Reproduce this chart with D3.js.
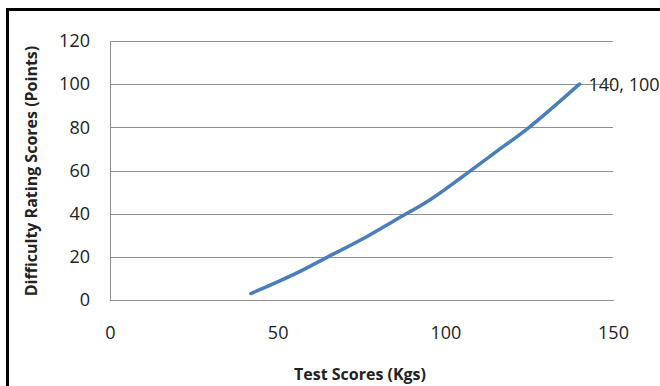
<!DOCTYPE html>
<html>
<head>
<meta charset="utf-8">
<script src="https://cdn.jsdelivr.net/npm/d3@7"></script>
<style>
  body { margin: 0; background: #fff; }
  text { font-family: "Open Sans", sans-serif; fill: #222; }
</style>
</head>
<body>
<svg id="chart" width="660" height="386"></svg>
<script>
// valores
const testScores = [42, 55, 65, 75, 85, 95, 105, 115, 125, 140];
const difficulty = [3, 12, 20, 28, 37, 46, 57, 68.5, 80, 100];
const xTicks = [0, 50, 100, 150];
const yTicks = [0, 20, 40, 60, 80, 100, 120];
const pointLabel = "140, 100";

const width = 660, height = 386;
const margin = {top: 41, right: 47, bottom: 86, left: 110};
const svg = d3.select("#chart");

// moldura externa
svg.append("rect")
    .attr("x", 7.5).attr("y", 9.5)
    .attr("width", 700).attr("height", 400)
    .attr("fill", "none")
    .attr("stroke", "#000")
    .attr("stroke-width", 3);

const x = d3.scaleLinear().domain([0, 150]).range([margin.left, width - margin.right]);
const y = d3.scaleLinear().domain([0, 120]).range([height - margin.bottom, margin.top]);

// linhas de grade
svg.append("g")
    .attr("class", "grid")
    .attr("transform", `translate(${margin.left},0)`)
    .call(d3.axisLeft(y).tickValues(yTicks).tickSize(-(width - margin.right - margin.left)).tickFormat(""))
    .call(g => g.select(".domain").remove())
    .call(g => g.selectAll("line").attr("stroke", "#8f8f8f").attr("shape-rendering", "crispEdges"));

// eixo Y
svg.append("g")
    .attr("class", "y-axis")
    .attr("transform", `translate(${margin.left},0)`)
    .call(d3.axisLeft(y).tickValues(yTicks).tickSize(0).tickPadding(20))
    .call(g => g.select(".domain").attr("stroke", "#8f8f8f").attr("shape-rendering", "crispEdges"))
    .call(g => g.selectAll("text").style("font-size", "18px").attr("fill", "#222"));

// eixo X
svg.append("g")
    .attr("class", "x-axis")
    .attr("transform", `translate(0,${height - margin.bottom})`)
    .call(d3.axisBottom(x).tickValues(xTicks).tickSize(0).tickPadding(26))
    .call(g => g.select(".domain").attr("stroke", "#8f8f8f").attr("shape-rendering", "crispEdges"))
    .call(g => g.selectAll("text").style("font-size", "18px").attr("fill", "#222"));

// títulos
svg.append("text")
    .attr("text-anchor", "middle")
    .attr("x", 360)
    .attr("y", 380)
    .style("font-size", "16px")
    .style("font-weight", "bold")
    .text("Test Scores (Kgs)");

svg.append("text")
    .attr("text-anchor", "middle")
    .attr("transform", "rotate(-90)")
    .attr("x", -171)
    .attr("y", 37)
    .style("font-size", "16px")
    .style("font-weight", "bold")
    .text("Difficulty Rating Scores (Points)");

// linha
const data = testScores.map((d, i) => ({x: d, y: difficulty[i]}));
const line = d3.line()
    .x(d => x(d.x))
    .y(d => y(d.y))
    .curve(d3.curveCatmullRom.alpha(0.5));

svg.append("path")
    .datum(data)
    .attr("fill", "none")
    .attr("stroke", "#4a7ebb")
    .attr("stroke-width", 3.5)
    .attr("stroke-linecap", "round")
    .attr("d", line);

// rótulo do último ponto
const last = data[data.length - 1];
svg.append("text")
    .attr("x", x(last.x) + 9)
    .attr("y", y(last.y) + 7)
    .style("font-size", "18px")
    .text(pointLabel);
</script>
</body>
</html>
